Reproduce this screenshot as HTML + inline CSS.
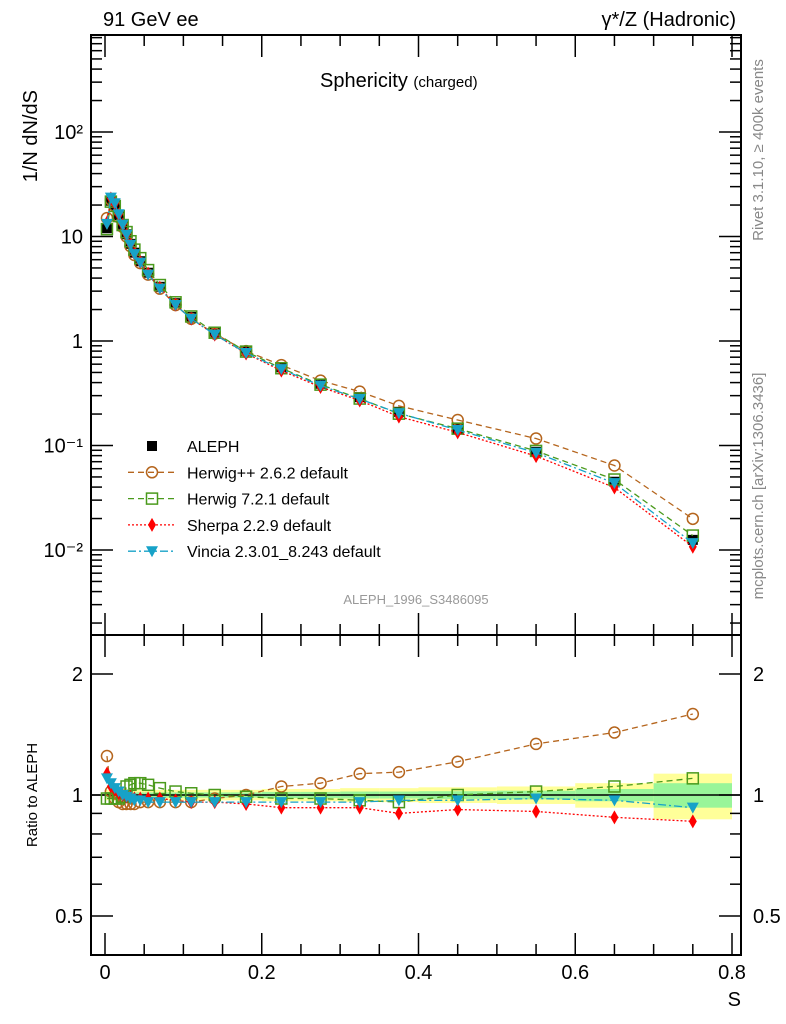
<!DOCTYPE html>
<html><head><meta charset="utf-8"><style>
body{margin:0;background:#fff;}
svg{display:block;font-family:"Liberation Sans",sans-serif;}
</style></head><body>
<svg id="c" width="786" height="1024" viewBox="0 0 786 1024">
<g id="bands"></g>
<g id="frame"></g>
<g id="series"></g>
<g id="legend"></g>
<text x="103" y="26" font-size="20">91 GeV ee</text>
<text x="736" y="26" font-size="20" text-anchor="end">γ*/Z (Hadronic)</text>
<text x="320" y="87" font-size="20">Sphericity <tspan font-size="15">(charged)</tspan></text>
<text x="416" y="604" font-size="13" fill="#999" text-anchor="middle">ALEPH_1996_S3486095</text>
<text transform="translate(763,150) rotate(-90)" font-size="15" fill="#888" text-anchor="middle">Rivet 3.1.10, ≥ 400k events</text>
<text transform="translate(763,486) rotate(-90)" font-size="15" fill="#888" text-anchor="middle">mcplots.cern.ch [arXiv:1306.3436]</text>
<text transform="translate(37,90) rotate(-90)" font-size="20" text-anchor="end">1/N dN/dS</text>
<text transform="translate(37,795) rotate(-90)" font-size="15" text-anchor="middle">Ratio to ALEPH</text>
<text x="741" y="1006" font-size="20" text-anchor="end">S</text>
</svg>
<script>
const xCenters=[0.0025,0.0075,0.0125,0.0175,0.0225,0.0275,0.0325,0.0375,0.045,0.055,0.07,0.09,0.11,0.14,0.18,0.225,0.275,0.325,0.375,0.45,0.55,0.65,0.75];
const binEdges=[0,0.005,0.01,0.015,0.02,0.025,0.03,0.035,0.04,0.05,0.06,0.08,0.10,0.12,0.16,0.20,0.25,0.30,0.35,0.40,0.50,0.60,0.70,0.80];
const alephVals=[12,22,20,16,13,10.5,8.5,7,5.8,4.5,3.3,2.3,1.7,1.2,0.8,0.56,0.39,0.29,0.21,0.145,0.087,0.045,0.0125];
const ratioHerwigpp=[1.25,1.02,0.98,0.96,0.95,0.95,0.95,0.95,0.96,0.96,0.96,0.96,0.96,0.98,1.0,1.05,1.07,1.13,1.14,1.21,1.34,1.43,1.59];
const ratioHerwig7=[0.98,0.98,0.98,0.98,0.99,1.05,1.06,1.07,1.07,1.06,1.04,1.02,1.01,1.0,0.99,0.98,0.98,0.97,0.96,1.0,1.02,1.05,1.10];
const ratioSherpa=[1.13,1.05,1.03,1.01,1.0,0.99,0.99,0.98,0.98,0.98,0.98,0.97,0.96,0.96,0.95,0.93,0.93,0.93,0.90,0.92,0.91,0.88,0.86];
const ratioVincia=[1.10,1.07,1.04,1.02,1.0,0.99,0.98,0.97,0.97,0.96,0.96,0.96,0.96,0.96,0.96,0.96,0.96,0.96,0.97,0.97,0.98,0.97,0.93];
const bandTotal=[0.03,0.03,0.03,0.03,0.03,0.03,0.03,0.03,0.03,0.03,0.03,0.03,0.03,0.03,0.03,0.035,0.035,0.04,0.04,0.045,0.05,0.07,0.13];
const bandStat=[0.015,0.015,0.015,0.015,0.015,0.015,0.015,0.015,0.015,0.015,0.015,0.015,0.015,0.015,0.015,0.018,0.018,0.02,0.02,0.022,0.025,0.035,0.07];
const yTickVals=[0.01,0.1,1,10,100];
const yTickLabels=["10⁻²","10⁻¹","1","10","10²"];
const xTickVals=[0,0.2,0.4,0.6,0.8];
const xTickLabels=["0","0.2","0.4","0.6","0.8"];
const rTickVals=[0.5,1,2];
const rTickLabels=["0.5","1","2"];

const NS="http://www.w3.org/2000/svg";
const L=91,R=741,T=35,MB=635,B=955;
const X=s=>105+s*783.75;
const Y=v=>341-Math.log10(v)*104.5;
const RY=r=>795-Math.log10(r)*402;
function mk(p,tag,at){const e=document.createElementNS(NS,tag);for(const k in at)e.setAttribute(k,at[k]);p.appendChild(e);return e;}
const bands=document.getElementById('bands'),frame=document.getElementById('frame'),ser=document.getElementById('series'),leg=document.getElementById('legend');

xCenters.forEach((c,i)=>{
 const x0=X(binEdges[i]),x1=X(binEdges[i+1]);
 const a=mk(bands,'rect',{x:x0,y:RY(1+bandTotal[i]),width:x1-x0,height:RY(1-bandTotal[i])-RY(1+bandTotal[i]),fill:'#ffff99'});
 
 
 const b=mk(bands,'rect',{x:x0,y:RY(1+bandStat[i]),width:x1-x0,height:RY(1-bandStat[i])-RY(1+bandStat[i]),fill:'#99f599'});
 
 
});
mk(frame,'line',{x1:L,x2:R,y1:RY(1),y2:RY(1),stroke:'#000','stroke-width':1.5});

mk(frame,'rect',{x:L,y:T,width:R-L,height:MB-T,fill:'none',stroke:'#000','stroke-width':2});
mk(frame,'rect',{x:L,y:MB,width:R-L,height:B-MB,fill:'none',stroke:'#000','stroke-width':2});
for(let d=-3;d<=2;d++)for(let m=1;m<10;m++){const v=m*Math.pow(10,d);const y=Y(v);if(y<T||y>MB)continue;const len=m==1?22:11;
 mk(frame,'line',{x1:L,x2:L+len,y1:y,y2:y,stroke:'#000','stroke-width':1.5});mk(frame,'line',{x1:R-len,x2:R,y1:y,y2:y,stroke:'#000','stroke-width':1.5});}
yTickVals.forEach((v,i)=>{const t=mk(frame,'text',{x:L-8,y:Y(v)+7,'font-size':20,'text-anchor':'end'});t.textContent=yTickLabels[i];
 
 });
[0.5,0.6,0.7,0.8,0.9,1,2].forEach(v=>{const y=RY(v);const len=(v==0.5||v==1||v==2)?22:11;
 mk(frame,'line',{x1:L,x2:L+len,y1:y,y2:y,stroke:'#000','stroke-width':1.5});mk(frame,'line',{x1:R-len,x2:R,y1:y,y2:y,stroke:'#000','stroke-width':1.5});});
rTickVals.forEach((v,i)=>{const t=mk(frame,'text',{x:L-8,y:RY(v)+7,'font-size':20,'text-anchor':'end'});t.textContent=rTickLabels[i];
 
 
 const t2=mk(frame,'text',{x:R+12,y:RY(v)+7,'font-size':20});t2.textContent=rTickLabels[i];
 
 });
for(let k=0;k<=16;k++){const s=k*0.05;const x=X(s);const len=k%4==0?22:11;
 [[T,1],[MB,-1],[MB,1],[B,-1]].forEach(([y0,dir])=>mk(frame,'line',{x1:x,x2:x,y1:y0,y2:y0+dir*len,stroke:'#000','stroke-width':1.5}));}
xTickVals.forEach((v,i)=>{const t=mk(frame,'text',{x:X(v),y:979,'font-size':20,'text-anchor':'middle'});t.textContent=xTickLabels[i];
 
 });

function marker(g,type,x,y,col){
 if(type=='sq')return mk(g,'rect',{x:x-5,y:y-5,width:10,height:10,fill:'#000'});
 if(type=='circ')return mk(g,'circle',{cx:x,cy:y,r:5.5,fill:'none',stroke:col,'stroke-width':1.5});
 if(type=='osq')return mk(g,'rect',{x:x-5.5,y:y-5.5,width:11,height:11,fill:'none',stroke:col,'stroke-width':1.5});
 if(type=='dia')return mk(g,'polygon',{points:`${x},${y-7} ${x+4},${y} ${x},${y+7} ${x-4},${y}`,fill:col});
 if(type=='tri')return mk(g,'polygon',{points:`${x-6},${y-5} ${x+6},${y-5} ${x},${y+6}`,fill:col});
}
const models=[
 {name:'herwigpp',r:ratioHerwigpp,col:'#b5651d',type:'circ',dash:'6,4',label:'Herwig++ 2.6.2 default'},
 {name:'herwig7',r:ratioHerwig7,col:'#4a9a1c',type:'osq',dash:'6,4',label:'Herwig 7.2.1 default'},
 {name:'sherpa',r:ratioSherpa,col:'#ff0000',type:'dia',dash:'2,2',label:'Sherpa 2.2.9 default'},
 {name:'vincia',r:ratioVincia,col:'#17a2c8',type:'tri',dash:'8,3,2,3',label:'Vincia 2.3.01_8.243 default'}];
const ga=mk(ser,'g',{});


xCenters.forEach((c,i)=>{const p=marker(ga,'sq',X(c),Y(alephVals[i]));
 
 });
models.forEach(m=>{
 const g=mk(ser,'g',{});
 
 
 const vals=xCenters.map((c,i)=>alephVals[i]*m.r[i]);
 mk(g,'polyline',{points:xCenters.map((c,i)=>X(c)+','+Y(vals[i])).join(' '),fill:'none',stroke:m.col,'stroke-width':1.3,'stroke-dasharray':m.dash});
 mk(g,'polyline',{points:xCenters.map((c,i)=>X(c)+','+RY(m.r[i])).join(' '),fill:'none',stroke:m.col,'stroke-width':1.3,'stroke-dasharray':m.dash});
 xCenters.forEach((c,i)=>{const p=marker(g,m.type,X(c),Y(vals[i]),m.col);
  
  
  const q=marker(g,m.type,X(c),RY(m.r[i]),m.col);
  
  });
});

const rows=[{type:'sq',col:'#000',label:'ALEPH'}].concat(models);
rows.forEach((m,i)=>{const y=446+i*26.3;
 const g=mk(leg,'g',{});
 
 
 if(m.dash)mk(g,'line',{x1:128,x2:175,y1:y,y2:y,stroke:m.col,'stroke-width':1.3,'stroke-dasharray':m.dash});
 marker(g,m.type,152,y,m.col);
 const t=mk(g,'text',{x:187,y:y+6,'font-size':16});t.textContent=m.label;});
</script>
</body></html>
